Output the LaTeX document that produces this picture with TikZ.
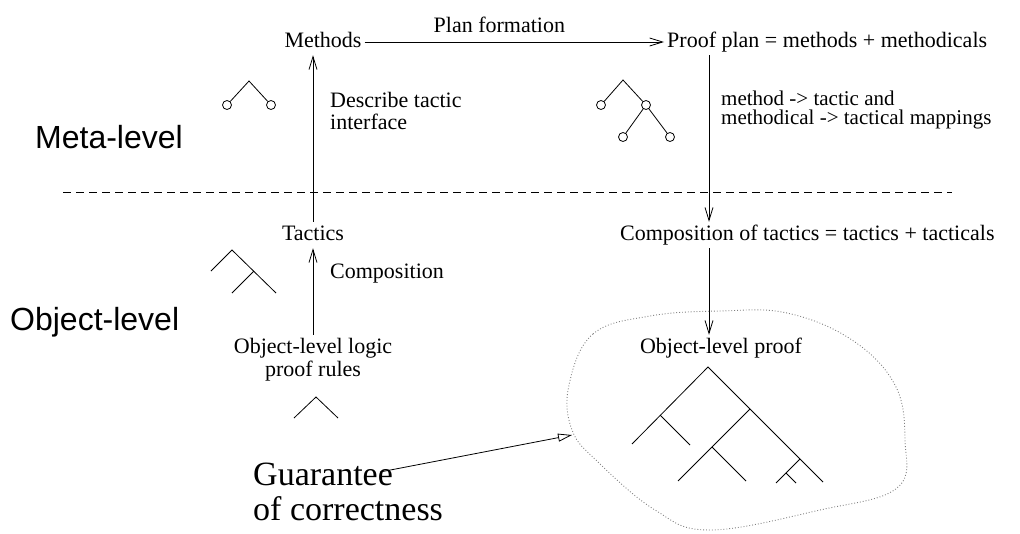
\documentclass[tikz,border=0pt]{standalone}
\usepackage{fontspec}
\setmainfont{Liberation Serif}
\newfontfamily\helv{Liberation Sans}
\usetikzlibrary{arrows.meta}
\begin{document}
\begin{tikzpicture}[x=1pt,y=-1pt,
  every node/.style={inner sep=3pt},
  lbl/.style={font=\fontsize{22}{22}\selectfont, anchor=base},
  one/.style={lbl, text height=15pt, text depth=5pt},
  big/.style={font=\helv\fontsize{32}{36}\selectfont, anchor=base west},
  arr/.style={line width=0.8pt, -{Straight Barb[length=13pt,width=8pt,line width=0.8pt]}},
  leaf/.style={circle, draw, line width=0.8pt, inner sep=0pt, minimum size=9pt},
  branch/.style={line width=0.8pt}]
\useasboundingbox (0,0) rectangle (1020,533);

% text nodes
\node[one] (meth) at (323,47) {Methods};
\node[one, anchor=base west] (pp) at (664,47) {Proof plan = methods + methodicals};
\node[one] (tac) at (313,240) {Tactics};
\node[one, anchor=base west] (cot) at (617,240) {Composition of tactics = tactics + tacticals};
\node[lbl, align=center, font=\fontsize{22}{23}\selectfont] (olr) at (313,376) {Object-level logic\\proof rules};
\node[one] (olp) at (721,353) {Object-level proof};
\node[lbl, anchor=base west, align=left] (desc) at (327,129) {Describe tactic\\interface};
\node[lbl, anchor=base west] (comp) at (327,278) {Composition};
\node[lbl, anchor=base west, align=left, font=\fontsize{21}{19}\selectfont] (map) at (718,124) {method -> tactic and\\methodical -> tactical mappings};
\node[big] (meta) at (32,148) {Meta-level};
\node[big] (obj) at (7,330) {Object-level};
\node[anchor=base west, align=left, font=\fontsize{34}{35}\selectfont] (guar) at (250,520) {Guarantee\\of correctness};

% connectors
\coordinate (rx) at (709,0);
\draw[arr] (meth.east) -- (meth.east -| pp.west)
  node[pos=0.45, above=9pt, font=\fontsize{22}{22}\selectfont, inner sep=0pt] {Plan formation};
\draw[arr] (tac.north) -- (tac.north |- meth.south);
\draw[arr] (olr.north) -- (tac.south);
\draw[arr] (pp.south -| rx) -- (cot.north -| rx);
\draw[arr] (cot.south -| rx) -- (olp.north -| rx);

% level separator
\draw[line width=0.8pt, dash pattern=on 8pt off 5pt] (63,192) -- (952,192);

% blob
\draw[gray, line width=0.9pt, dotted] plot[smooth cycle, tension=0.65] coordinates {
  (569,385) (593,334) (650,316) (720,311) (787,313) (852,340) (895,385)
  (905,440) (897,488) (820,510) (710,530) (655,510) (598,462) (572,430)};

\coordinate (gs) at (380,472);
\coordinate (ge) at (572,435);
\draw[line width=0.8pt, -{Triangle[open, length=14pt, width=8pt, line width=0.8pt]}] (gs) -- (ge);

% tree with circles, left
\node[leaf] (a1) at (227,105) {};
\node[leaf] (a2) at (271,105) {};
\coordinate (a0) at (249,81);
\draw[branch] (a1) -- (a0) -- (a2);

% tree with circles, right
\coordinate (b0) at (623,80);
\node[leaf] (b1) at (601,105) {};
\node[leaf] (b2) at (646,105) {};
\node[leaf] (b3) at (623,137) {};
\node[leaf] (b4) at (670,137) {};
\draw[branch] (b1) -- (b0) -- (b2);
\draw[branch] (b3) -- (b2) -- (b4);

% tactic tree
\draw[branch] (211,271) -- (232,250) -- (276,293);
\draw[branch] (254,271) -- (232,293);

% rule tree
\draw[branch] (294,418) -- (316,397) -- (338,418);

% object-level proof tree
\draw[branch] (632,444) -- (708,367) -- (823,482);
\draw[branch] (660,415) -- (690,445);
\draw[branch] (750,409) -- (678,481);
\draw[branch] (712,447) -- (746,481);
\draw[branch] (800,459) -- (776,483);
\draw[branch] (786,473) -- (796,483);
\end{tikzpicture}
\end{document}
